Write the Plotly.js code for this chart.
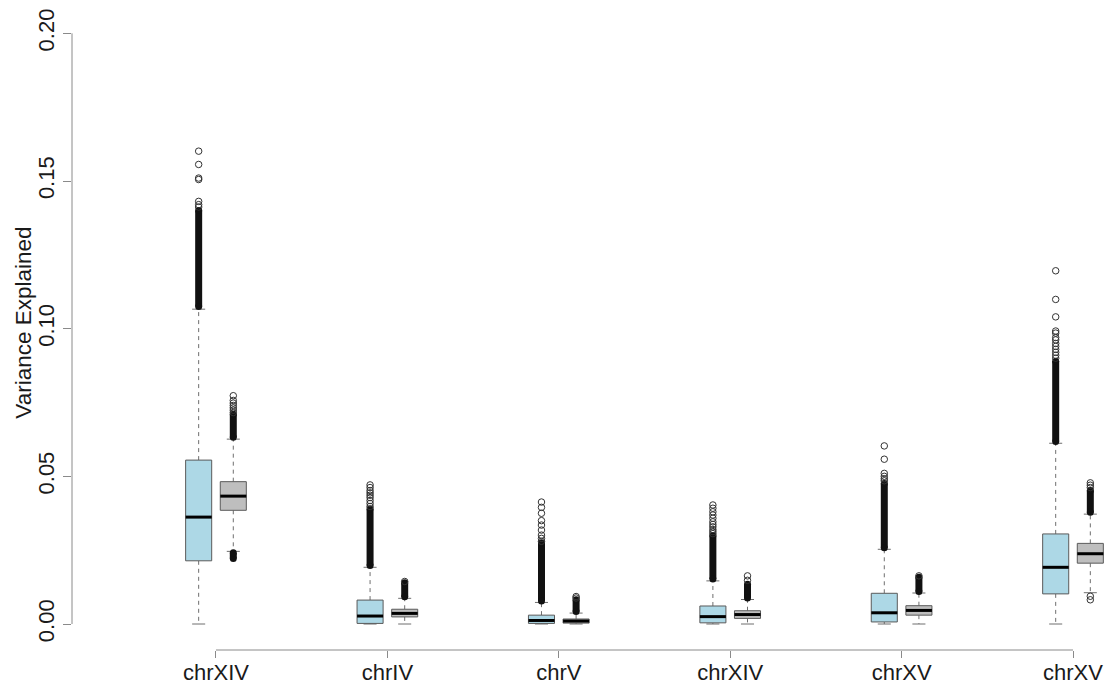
<!DOCTYPE html>
<html>
<head>
<meta charset="utf-8">
<script src="https://cdn.plot.ly/plotly-3.0.1.min.js"></script>
<style>
  html, body { margin: 0; padding: 0; background: #fff; }
  #chart { width: 1109px; height: 688px; }
</style>
</head>
<body>
<div id="chart"></div>
<script>
// Chromosome groups along the x axis
const groups = ['chrXIV', 'chrIV', 'chrV', 'chrXIV', 'chrXV', 'chrXV'];

// Light-blue series: box statistics per group
const blueLow    = [0, 0, 0, 0, 0, 0];
const blueQ1     = [0.0214, 0.0002, 0.0002, 0.0004, 0.0007, 0.0102];
const blueMedian = [0.0362, 0.0027, 0.0012, 0.0025, 0.0038, 0.0192];
const blueQ3     = [0.0555, 0.0081, 0.0030, 0.0061, 0.0104, 0.0305];
const blueHigh   = [0.1066, 0.0192, 0.0073, 0.0146, 0.0253, 0.0612];
// Runs of densely packed outliers ([from, to]) and isolated outliers
const blueDense = [
  [[0.1075, 0.1400]],
  [[0.0198, 0.0390]],
  [[0.0078, 0.0275]],
  [[0.0152, 0.0300]],
  [[0.0258, 0.0476]],
  [[0.0618, 0.0890]]
];
const blueSparse = [
  [0.1601, 0.1556, 0.1510, 0.1505, 0.1431, 0.1420, 0.1412],
  [0.0471, 0.0462, 0.0452, 0.0444, 0.0436, 0.0428, 0.0418, 0.0408, 0.0398],
  [0.0413, 0.0395, 0.0375, 0.0350, 0.0335, 0.0318, 0.0301, 0.0290, 0.0280],
  [0.0403, 0.0392, 0.0380, 0.0369, 0.0358, 0.0346, 0.0337, 0.0329, 0.0320, 0.0313, 0.0306],
  [0.0603, 0.0558, 0.0510, 0.0500, 0.0492, 0.0485],
  [0.1196, 0.1099, 0.1040, 0.0992, 0.0985, 0.0970, 0.0962, 0.0950, 0.0940, 0.0930, 0.0920, 0.0910, 0.0900]
];

// Gray series: box statistics per group
const grayLow    = [0.0246, 0, 0, 0, 0, 0.0106];
const grayQ1     = [0.0385, 0.0024, 0.0003, 0.0019, 0.0030, 0.0206];
const grayMedian = [0.0433, 0.0036, 0.0010, 0.0032, 0.0046, 0.0238];
const grayQ3     = [0.0482, 0.0050, 0.0017, 0.0045, 0.0062, 0.0273];
const grayHigh   = [0.0626, 0.0087, 0.0037, 0.0083, 0.0105, 0.0372];
const grayDense = [
  [[0.0632, 0.0710], [0.0222, 0.0241]],
  [[0.0092, 0.0140]],
  [[0.0042, 0.0082]],
  [[0.0088, 0.0135]],
  [[0.0110, 0.0158]],
  [[0.0378, 0.0452]]
];
const graySparse = [
  [0.0773, 0.0757, 0.0748, 0.0740, 0.0732, 0.0724, 0.0716],
  [0.0144],
  [0.0093, 0.0088],
  [0.0163, 0.0148],
  [0.0163],
  [0.0478, 0.0470, 0.0462, 0.0094, 0.0082]
];

const yTicks = [0, 0.05, 0.10, 0.15, 0.20];
const yTickText = ['0.00', '0.05', '0.10', '0.15', '0.20'];

// Drawing geometry (in x-axis units, one unit per group)
const OFFSET = 0.101;     // box centre offset from group centre
const HALF = 0.076;       // half box width
const CAP = 0.038;        // half staple width

function seriesTraces(offset, fill, low, q1, med, q3, high, dense, sparse) {
  const bx = [], by = [], mx = [], my = [], wx = [], wy = [], sx = [], sy = [];
  const dx = [], dy = [], ox = [], oy = [];
  groups.forEach((g, i) => {
    const c = i + 1 + offset;
    const l = c - HALF, r = c + HALF;
    bx.push(l, r, r, l, l, null); by.push(q1[i], q1[i], q3[i], q3[i], q1[i], null);
    mx.push(l, r, null); my.push(med[i], med[i], null);
    wx.push(c, c, null, c, c, null); wy.push(q3[i], high[i], null, q1[i], low[i], null);
    sx.push(c - CAP, c + CAP, null, c - CAP, c + CAP, null);
    sy.push(high[i], high[i], null, low[i], low[i], null);
    dense[i].forEach(run => { dx.push(c, c, null); dy.push(run[0], run[1], null); });
    sparse[i].forEach(v => { ox.push(c); oy.push(v); });
  });
  return [
    { x: wx, y: wy, mode: 'lines', line: { color: '#6e6e6e', width: 1, dash: '4px,4px' }, hoverinfo: 'skip' },
    { x: sx, y: sy, mode: 'lines', line: { color: '#6e6e6e', width: 1 }, hoverinfo: 'skip' },
    { x: bx, y: by, mode: 'lines', fill: 'toself', fillcolor: fill, line: { color: '#5a5a5a', width: 1 }, hoverinfo: 'skip' },
    { x: mx, y: my, mode: 'lines', line: { color: '#000', width: 3 }, hoverinfo: 'skip' },
    { x: dx, y: dy, mode: 'lines+markers', line: { color: '#111', width: 7 },
      marker: { color: '#111', size: 7 }, hoverinfo: 'skip' },
    { x: ox, y: oy, mode: 'markers', marker: { symbol: 'circle-open', color: '#333', size: 6.5, line: { width: 1 } }, hoverinfo: 'skip' }
  ];
}

const traces = [].concat(
  seriesTraces(-OFFSET, '#ADD8E6', blueLow, blueQ1, blueMedian, blueQ3, blueHigh, blueDense, blueSparse),
  seriesTraces(OFFSET, '#BEBEBE', grayLow, grayQ1, grayMedian, grayQ3, grayHigh, grayDense, graySparse)
);

const font = { family: 'Liberation Sans, Arial, sans-serif', color: '#1a1a1a', size: 22 };

const layout = {
  width: 1109, height: 688,
  margin: { l: 72, r: 0, t: 10, b: 38 },
  paper_bgcolor: '#fff', plot_bgcolor: '#fff',
  showlegend: false,
  font: font,
  xaxis: {
    range: [0.16, 6.21],
    tickvals: groups.map((g, i) => i + 1), ticktext: groups,
    ticks: 'outside', ticklen: 7, tickcolor: '#8a8a8a', tickwidth: 1,
    ticklabelstandoff: -4,
    showline: false, showgrid: false, zeroline: false,
    tickfont: { size: 22 }, fixedrange: true
  },
  yaxis: {
    range: [-0.0088, 0.2079],
    tickvals: yTicks, ticktext: yTickText, tickangle: -90,
    ticks: 'outside', ticklen: 8, tickcolor: '#8a8a8a', tickwidth: 1,
    ticklabelstandoff: 0,
    showline: false, showgrid: false, zeroline: false,
    tickfont: { size: 22 }, fixedrange: true
  },
  shapes: [
    // R-style axis lines spanning only the tick range
    { type: 'line', xref: 'paper', yref: 'y', x0: 0, x1: 0, y0: yTicks[0], y1: yTicks[yTicks.length - 1],
      line: { color: '#8a8a8a', width: 1 } },
    { type: 'line', xref: 'x', yref: 'paper', x0: 1, x1: groups.length, y0: 0, y1: 0,
      line: { color: '#8a8a8a', width: 1 } }
  ],
  annotations: [
    { text: 'Variance Explained', xref: 'paper', yref: 'y', x: 0, y: 0.1,
      xanchor: 'center', yanchor: 'middle', xshift: -48, yshift: 6, textangle: -90,
      showarrow: false, font: { size: 22.5 } }
  ]
};

Plotly.newPlot('chart', traces, layout, { staticPlot: true, displayModeBar: false });
</script>
</body>
</html>
